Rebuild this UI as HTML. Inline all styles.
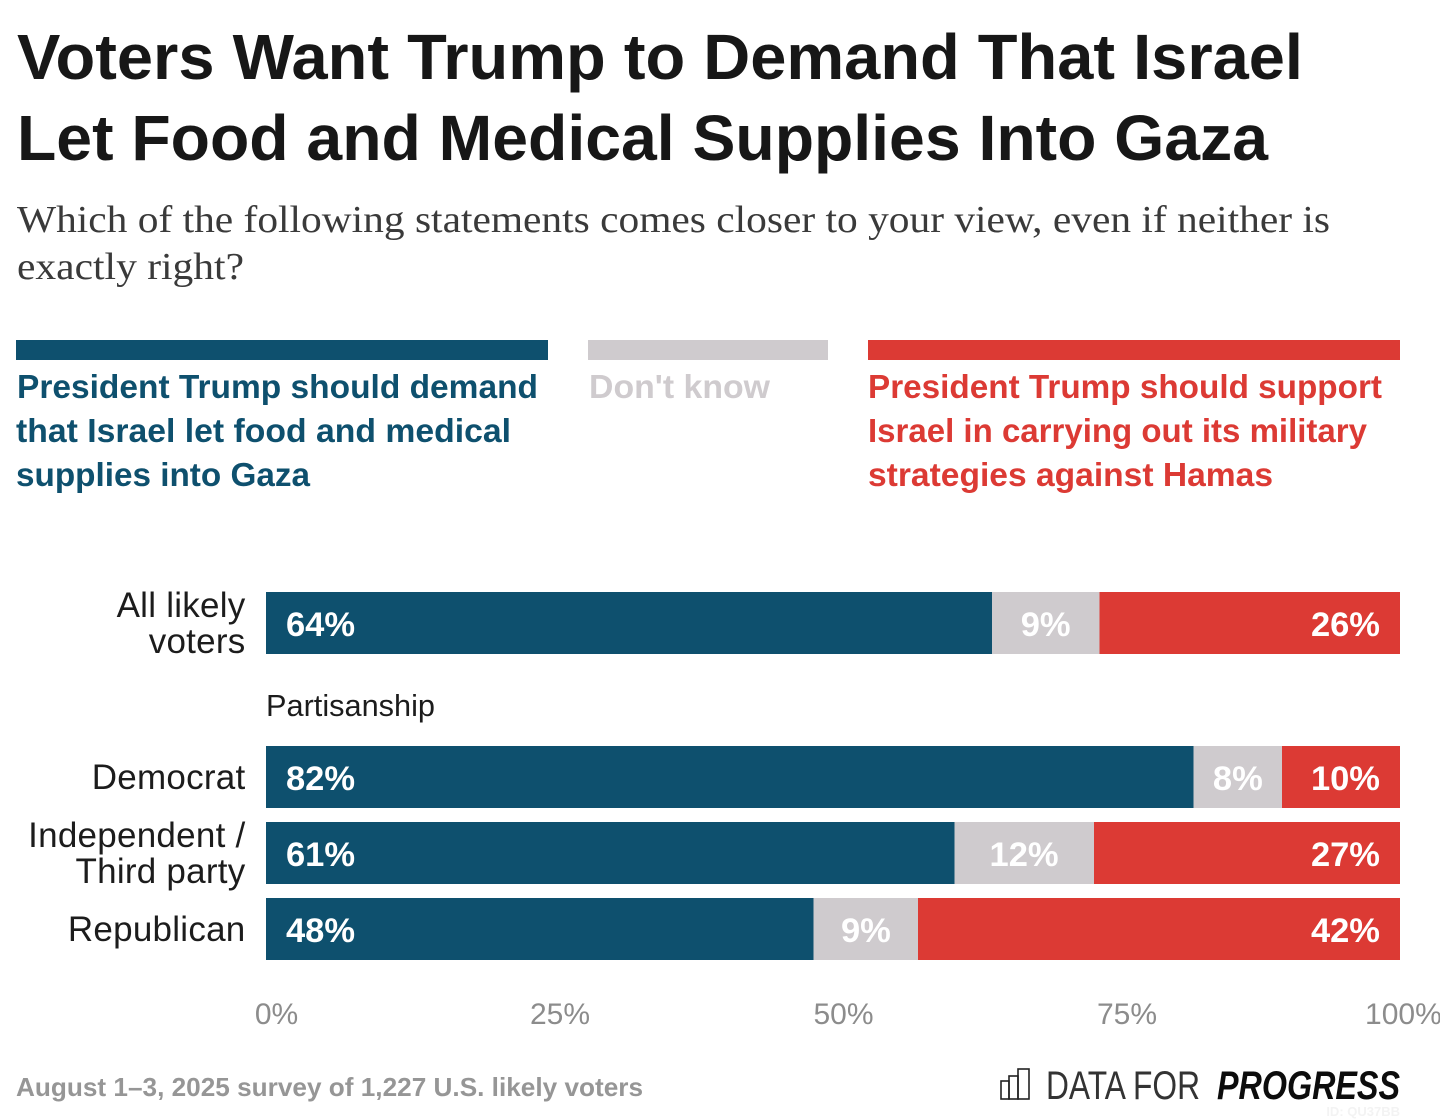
<!DOCTYPE html>
<html lang="en">
<head>
<meta charset="utf-8">
<title>Voters Want Trump to Demand That Israel Let Food and Medical Supplies Into Gaza</title>
<style>
html,body{margin:0;padding:0;background:#fff;width:1440px;height:1120px;overflow:hidden}
svg{display:block}
text{font-family:"Liberation Sans",sans-serif}
</style>
</head>
<body>
<svg id="chart" xmlns="http://www.w3.org/2000/svg" width="1440" height="1120" viewBox="0 0 1440 1120">
  <rect width="1440" height="1120" fill="#fff"/>
  <g font-size="64" font-weight="700" fill="#171717">
    <text x="17" y="79" textLength="1286" lengthAdjust="spacingAndGlyphs">Voters Want Trump to Demand That Israel</text>
    <text x="17" y="160" textLength="1251" lengthAdjust="spacingAndGlyphs">Let Food and Medical Supplies Into Gaza</text>
  </g>
  <g font-size="38" fill="#3a3a3a">
    <text style="font-family:'Liberation Serif',serif" x="17" y="232" textLength="1313" lengthAdjust="spacingAndGlyphs">Which of the following statements comes closer to your view, even if neither is</text>
    <text style="font-family:'Liberation Serif',serif" x="17" y="279" textLength="227" lengthAdjust="spacingAndGlyphs">exactly right?</text>
  </g>
  <g font-size="33" font-weight="700">
    <g fill="#0e506e">
      <rect x="16" y="340" width="532" height="20"/>
      <text x="17" y="398" textLength="521" lengthAdjust="spacingAndGlyphs">President Trump should demand</text>
      <text x="16" y="442" textLength="495" lengthAdjust="spacingAndGlyphs">that Israel let food and medical</text>
      <text x="16" y="486" textLength="294" lengthAdjust="spacingAndGlyphs">supplies into Gaza</text>
    </g>
    <g fill="#cfcbce">
      <rect x="588" y="340" width="240" height="20"/>
      <text x="589" y="398" textLength="181" lengthAdjust="spacingAndGlyphs">Don't know</text>
    </g>
    <g fill="#dc3a34">
      <rect x="868" y="340" width="532" height="20"/>
      <text x="868" y="398" textLength="514" lengthAdjust="spacingAndGlyphs">President Trump should support</text>
      <text x="868" y="442" textLength="499" lengthAdjust="spacingAndGlyphs">Israel in carrying out its military</text>
      <text x="868" y="486" textLength="405" lengthAdjust="spacingAndGlyphs">strategies against Hamas</text>
    </g>
  </g>
  <text x="266" y="716" font-size="31" fill="#1c1c1c" textLength="169" lengthAdjust="spacingAndGlyphs">Partisanship</text>
  <g id="plot"></g>
  <g id="x-axis"></g>
  <text x="16" y="1096" font-size="26" font-weight="700" fill="#969696" textLength="627" lengthAdjust="spacingAndGlyphs">August 1–3, 2025 survey of 1,227 U.S. likely voters</text>
  <g>
    <g fill="none" stroke="#222" stroke-width="1.6">
      <rect x="1001" y="1081" width="8" height="18"/>
      <rect x="1009" y="1076" width="9" height="23"/>
      <rect x="1018" y="1069" width="11" height="30"/>
    </g>
    <text x="1046" y="1099" font-size="40" fill="#333" textLength="154" lengthAdjust="spacingAndGlyphs">DATA FOR</text>
    <text x="1217" y="1099" font-size="40" font-weight="700" font-style="italic" fill="#0c0c0c" textLength="183" lengthAdjust="spacingAndGlyphs">PROGRESS</text>
  </g>
  <text x="1400" y="1116" text-anchor="end" font-size="13" font-weight="700" fill="#f3f3f3">ID: QU37BB</text>
</svg>
<script>
var categories = [["All likely", "voters"], ["Democrat"], ["Independent /", "Third party"], ["Republican"]];
var demandValues = [64.0, 81.8, 60.7, 48.3];
var dontKnowValues = [9.5, 7.8, 12.3, 9.2];
var supportValues = [26.5, 10.4, 27.0, 42.5];
var demandLabels = ["64%", "82%", "61%", "48%"];
var dontKnowLabels = ["9%", "8%", "12%", "9%"];
var supportLabels = ["26%", "10%", "27%", "42%"];
var tickValues = [0, 25, 50, 75, 100];
var tickLabels = ["0%", "25%", "50%", "75%", "100%"];

var NS = "http://www.w3.org/2000/svg";
var plotLeft = 266, plotWidth = 1134, barHeight = 62;
function xScale(v) { return plotLeft + v / 100 * plotWidth; }
function yBand(i) { return i === 0 ? 592 : 746 + (i - 1) * 76; }
function make(tag, attrs, parent) {
  var el = document.createElementNS(NS, tag);
  for (var k in attrs) el.setAttribute(k, attrs[k]);
  parent.appendChild(el);
  return el;
}
var plot = document.getElementById("plot");
var axis = document.getElementById("x-axis");

categories.forEach(function (lines, i) {
  var y = yBand(i);
  var firstBase = lines.length === 2 ? y + 25 : y + 43;
  lines.forEach(function (line, j) {
    var label = make("text", { x: 245.5, y: firstBase + j * 36, "text-anchor": "end", "font-size": 35, "letter-spacing": 0.25, fill: "#1c1c1c" }, plot);
    
    
    label.textContent = line;
  });

  var d = demandValues[i], k = dontKnowValues[i], s = supportValues[i];
  var segD = make("rect", { x: xScale(0), y: y, width: xScale(d) - xScale(0), height: barHeight, fill: "#0e506e", "shape-rendering": "crispEdges" }, plot);
  
  
  var segK = make("rect", { x: xScale(d), y: y, width: xScale(d + k) - xScale(d), height: barHeight, fill: "#cfcbce", "shape-rendering": "crispEdges" }, plot);
  
  
  var segS = make("rect", { x: xScale(d + k), y: y, width: xScale(d + k + s) - xScale(d + k), height: barHeight, fill: "#dc3a34", "shape-rendering": "crispEdges" }, plot);
  
  

  var common = { y: y + 44, "font-size": 34.5, "font-weight": 700, fill: "#fff" };
  var t1 = make("text", Object.assign({ x: xScale(0) + 20 }, common), plot);
  
  
  t1.textContent = demandLabels[i];
  var t2 = make("text", Object.assign({ x: xScale(d + k / 2), "text-anchor": "middle" }, common), plot);
  
  
  t2.textContent = dontKnowLabels[i];
  var t3 = make("text", Object.assign({ x: xScale(d + k + s) - 20, "text-anchor": "end" }, common), plot);
  
  
  t3.textContent = supportLabels[i];
});

tickValues.forEach(function (v, i) {
  var half = tickLabels[i].length * 8.4 + 3;
  var cx = Math.min(xScale(v) + 10.5, 1440 - half);
  var tick = make("text", { x: cx, y: 1024, "text-anchor": "middle", "font-size": 30, fill: "#8c8c8c" }, axis);
  
  
  tick.textContent = tickLabels[i];
});
</script>
</body>
</html>
